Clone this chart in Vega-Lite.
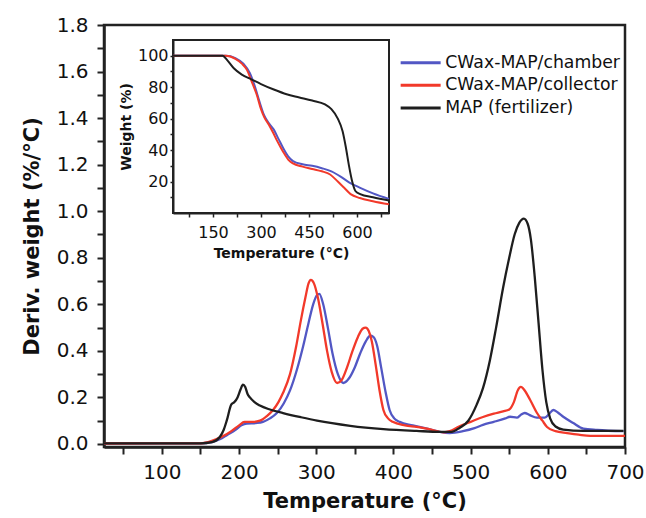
{
  "$schema": "https://vega.github.io/schema/vega-lite/v6.json",
  "width": 521,
  "height": 422,
  "autosize": "none",
  "padding": {"left": 104, "top": 25, "right": 21, "bottom": 71},
  "background": "white",
  "config": {
    "view": {"stroke": "#222222", "strokeWidth": 2.5},
    "font": "DejaVu Sans",
    "axis": {"grid": false, "labelColor": "#111", "titleColor": "#111", "domainColor": "#222", "tickColor": "#222", "labelOverlap": false, "labelFlush": false, "labelFont": "DejaVu Sans", "titleFont": "DejaVu Sans"}
  },
  "datasets": {
    "dtg": [
      {"s": "CWax-MAP/chamber", "T": 25, "d": 0.002}, {"s": "CWax-MAP/chamber", "T": 150, "d": 0.003}, {"s": "CWax-MAP/chamber", "T": 165, "d": 0.008}, {"s": "CWax-MAP/chamber", "T": 175, "d": 0.02}, {"s": "CWax-MAP/chamber", "T": 185, "d": 0.04}, {"s": "CWax-MAP/chamber", "T": 195, "d": 0.06}, {"s": "CWax-MAP/chamber", "T": 203, "d": 0.08}, {"s": "CWax-MAP/chamber", "T": 210, "d": 0.088}, {"s": "CWax-MAP/chamber", "T": 222, "d": 0.09}, {"s": "CWax-MAP/chamber", "T": 231, "d": 0.095}, {"s": "CWax-MAP/chamber", "T": 240, "d": 0.11}, {"s": "CWax-MAP/chamber", "T": 249, "d": 0.133}, {"s": "CWax-MAP/chamber", "T": 258, "d": 0.175}, {"s": "CWax-MAP/chamber", "T": 266, "d": 0.23}, {"s": "CWax-MAP/chamber", "T": 275, "d": 0.32}, {"s": "CWax-MAP/chamber", "T": 283, "d": 0.42}, {"s": "CWax-MAP/chamber", "T": 290, "d": 0.52}, {"s": "CWax-MAP/chamber", "T": 296, "d": 0.6}, {"s": "CWax-MAP/chamber", "T": 301, "d": 0.64}, {"s": "CWax-MAP/chamber", "T": 304, "d": 0.645}, {"s": "CWax-MAP/chamber", "T": 309, "d": 0.6}, {"s": "CWax-MAP/chamber", "T": 315, "d": 0.5}, {"s": "CWax-MAP/chamber", "T": 321, "d": 0.39}, {"s": "CWax-MAP/chamber", "T": 328, "d": 0.3}, {"s": "CWax-MAP/chamber", "T": 335, "d": 0.262}, {"s": "CWax-MAP/chamber", "T": 342, "d": 0.28}, {"s": "CWax-MAP/chamber", "T": 350, "d": 0.33}, {"s": "CWax-MAP/chamber", "T": 357, "d": 0.39}, {"s": "CWax-MAP/chamber", "T": 364, "d": 0.44}, {"s": "CWax-MAP/chamber", "T": 370, "d": 0.465}, {"s": "CWax-MAP/chamber", "T": 374, "d": 0.46}, {"s": "CWax-MAP/chamber", "T": 379, "d": 0.42}, {"s": "CWax-MAP/chamber", "T": 384, "d": 0.33}, {"s": "CWax-MAP/chamber", "T": 390, "d": 0.22}, {"s": "CWax-MAP/chamber", "T": 395, "d": 0.146}, {"s": "CWax-MAP/chamber", "T": 401, "d": 0.11}, {"s": "CWax-MAP/chamber", "T": 408, "d": 0.095}, {"s": "CWax-MAP/chamber", "T": 425, "d": 0.08}, {"s": "CWax-MAP/chamber", "T": 445, "d": 0.065}, {"s": "CWax-MAP/chamber", "T": 460, "d": 0.052}, {"s": "CWax-MAP/chamber", "T": 473, "d": 0.047}, {"s": "CWax-MAP/chamber", "T": 490, "d": 0.055}, {"s": "CWax-MAP/chamber", "T": 505, "d": 0.068}, {"s": "CWax-MAP/chamber", "T": 516, "d": 0.082}, {"s": "CWax-MAP/chamber", "T": 530, "d": 0.095}, {"s": "CWax-MAP/chamber", "T": 545, "d": 0.11}, {"s": "CWax-MAP/chamber", "T": 551, "d": 0.117}, {"s": "CWax-MAP/chamber", "T": 560, "d": 0.113}, {"s": "CWax-MAP/chamber", "T": 565, "d": 0.125}, {"s": "CWax-MAP/chamber", "T": 570, "d": 0.133}, {"s": "CWax-MAP/chamber", "T": 576, "d": 0.125}, {"s": "CWax-MAP/chamber", "T": 586, "d": 0.113}, {"s": "CWax-MAP/chamber", "T": 596, "d": 0.113}, {"s": "CWax-MAP/chamber", "T": 602, "d": 0.13}, {"s": "CWax-MAP/chamber", "T": 607, "d": 0.146}, {"s": "CWax-MAP/chamber", "T": 613, "d": 0.135}, {"s": "CWax-MAP/chamber", "T": 620, "d": 0.117}, {"s": "CWax-MAP/chamber", "T": 633, "d": 0.09}, {"s": "CWax-MAP/chamber", "T": 646, "d": 0.066}, {"s": "CWax-MAP/chamber", "T": 664, "d": 0.06}, {"s": "CWax-MAP/chamber", "T": 698, "d": 0.055},
      {"s": "CWax-MAP/collector", "T": 25, "d": 0.002}, {"s": "CWax-MAP/collector", "T": 150, "d": 0.003}, {"s": "CWax-MAP/collector", "T": 160, "d": 0.008}, {"s": "CWax-MAP/collector", "T": 170, "d": 0.02}, {"s": "CWax-MAP/collector", "T": 180, "d": 0.035}, {"s": "CWax-MAP/collector", "T": 190, "d": 0.055}, {"s": "CWax-MAP/collector", "T": 200, "d": 0.08}, {"s": "CWax-MAP/collector", "T": 207, "d": 0.095}, {"s": "CWax-MAP/collector", "T": 218, "d": 0.095}, {"s": "CWax-MAP/collector", "T": 227, "d": 0.1}, {"s": "CWax-MAP/collector", "T": 236, "d": 0.12}, {"s": "CWax-MAP/collector", "T": 244, "d": 0.146}, {"s": "CWax-MAP/collector", "T": 251, "d": 0.18}, {"s": "CWax-MAP/collector", "T": 257, "d": 0.22}, {"s": "CWax-MAP/collector", "T": 266, "d": 0.3}, {"s": "CWax-MAP/collector", "T": 274, "d": 0.42}, {"s": "CWax-MAP/collector", "T": 280, "d": 0.53}, {"s": "CWax-MAP/collector", "T": 286, "d": 0.63}, {"s": "CWax-MAP/collector", "T": 290, "d": 0.69}, {"s": "CWax-MAP/collector", "T": 293, "d": 0.705}, {"s": "CWax-MAP/collector", "T": 297, "d": 0.69}, {"s": "CWax-MAP/collector", "T": 302, "d": 0.63}, {"s": "CWax-MAP/collector", "T": 308, "d": 0.52}, {"s": "CWax-MAP/collector", "T": 314, "d": 0.4}, {"s": "CWax-MAP/collector", "T": 320, "d": 0.31}, {"s": "CWax-MAP/collector", "T": 327, "d": 0.262}, {"s": "CWax-MAP/collector", "T": 333, "d": 0.275}, {"s": "CWax-MAP/collector", "T": 340, "d": 0.33}, {"s": "CWax-MAP/collector", "T": 347, "d": 0.4}, {"s": "CWax-MAP/collector", "T": 354, "d": 0.46}, {"s": "CWax-MAP/collector", "T": 360, "d": 0.495}, {"s": "CWax-MAP/collector", "T": 364, "d": 0.5}, {"s": "CWax-MAP/collector", "T": 368, "d": 0.485}, {"s": "CWax-MAP/collector", "T": 372, "d": 0.44}, {"s": "CWax-MAP/collector", "T": 377, "d": 0.34}, {"s": "CWax-MAP/collector", "T": 382, "d": 0.23}, {"s": "CWax-MAP/collector", "T": 387, "d": 0.146}, {"s": "CWax-MAP/collector", "T": 393, "d": 0.11}, {"s": "CWax-MAP/collector", "T": 399, "d": 0.095}, {"s": "CWax-MAP/collector", "T": 415, "d": 0.08}, {"s": "CWax-MAP/collector", "T": 430, "d": 0.073}, {"s": "CWax-MAP/collector", "T": 451, "d": 0.06}, {"s": "CWax-MAP/collector", "T": 465, "d": 0.05}, {"s": "CWax-MAP/collector", "T": 473, "d": 0.055}, {"s": "CWax-MAP/collector", "T": 485, "d": 0.075}, {"s": "CWax-MAP/collector", "T": 500, "d": 0.095}, {"s": "CWax-MAP/collector", "T": 516, "d": 0.116}, {"s": "CWax-MAP/collector", "T": 530, "d": 0.13}, {"s": "CWax-MAP/collector", "T": 542, "d": 0.14}, {"s": "CWax-MAP/collector", "T": 550, "d": 0.148}, {"s": "CWax-MAP/collector", "T": 556, "d": 0.18}, {"s": "CWax-MAP/collector", "T": 561, "d": 0.23}, {"s": "CWax-MAP/collector", "T": 565, "d": 0.245}, {"s": "CWax-MAP/collector", "T": 570, "d": 0.23}, {"s": "CWax-MAP/collector", "T": 577, "d": 0.19}, {"s": "CWax-MAP/collector", "T": 586, "d": 0.133}, {"s": "CWax-MAP/collector", "T": 593, "d": 0.1}, {"s": "CWax-MAP/collector", "T": 599, "d": 0.073}, {"s": "CWax-MAP/collector", "T": 610, "d": 0.055}, {"s": "CWax-MAP/collector", "T": 625, "d": 0.047}, {"s": "CWax-MAP/collector", "T": 640, "d": 0.04}, {"s": "CWax-MAP/collector", "T": 655, "d": 0.035}, {"s": "CWax-MAP/collector", "T": 700, "d": 0.035},
      {"s": "MAP (fertilizer)", "T": 25, "d": 0.003}, {"s": "MAP (fertilizer)", "T": 150, "d": 0.003}, {"s": "MAP (fertilizer)", "T": 165, "d": 0.008}, {"s": "MAP (fertilizer)", "T": 175, "d": 0.03}, {"s": "MAP (fertilizer)", "T": 180, "d": 0.06}, {"s": "MAP (fertilizer)", "T": 184, "d": 0.1}, {"s": "MAP (fertilizer)", "T": 190, "d": 0.17}, {"s": "MAP (fertilizer)", "T": 194, "d": 0.18}, {"s": "MAP (fertilizer)", "T": 198, "d": 0.2}, {"s": "MAP (fertilizer)", "T": 202, "d": 0.235}, {"s": "MAP (fertilizer)", "T": 205, "d": 0.255}, {"s": "MAP (fertilizer)", "T": 208, "d": 0.245}, {"s": "MAP (fertilizer)", "T": 211, "d": 0.215}, {"s": "MAP (fertilizer)", "T": 214, "d": 0.2}, {"s": "MAP (fertilizer)", "T": 220, "d": 0.18}, {"s": "MAP (fertilizer)", "T": 227, "d": 0.165}, {"s": "MAP (fertilizer)", "T": 240, "d": 0.148}, {"s": "MAP (fertilizer)", "T": 257, "d": 0.133}, {"s": "MAP (fertilizer)", "T": 280, "d": 0.115}, {"s": "MAP (fertilizer)", "T": 301, "d": 0.1}, {"s": "MAP (fertilizer)", "T": 344, "d": 0.078}, {"s": "MAP (fertilizer)", "T": 387, "d": 0.064}, {"s": "MAP (fertilizer)", "T": 430, "d": 0.056}, {"s": "MAP (fertilizer)", "T": 460, "d": 0.052}, {"s": "MAP (fertilizer)", "T": 475, "d": 0.052}, {"s": "MAP (fertilizer)", "T": 486, "d": 0.07}, {"s": "MAP (fertilizer)", "T": 497, "d": 0.1}, {"s": "MAP (fertilizer)", "T": 508, "d": 0.17}, {"s": "MAP (fertilizer)", "T": 516, "d": 0.24}, {"s": "MAP (fertilizer)", "T": 525, "d": 0.36}, {"s": "MAP (fertilizer)", "T": 533, "d": 0.5}, {"s": "MAP (fertilizer)", "T": 542, "d": 0.67}, {"s": "MAP (fertilizer)", "T": 550, "d": 0.8}, {"s": "MAP (fertilizer)", "T": 557, "d": 0.9}, {"s": "MAP (fertilizer)", "T": 563, "d": 0.95}, {"s": "MAP (fertilizer)", "T": 569, "d": 0.968}, {"s": "MAP (fertilizer)", "T": 574, "d": 0.945}, {"s": "MAP (fertilizer)", "T": 578, "d": 0.88}, {"s": "MAP (fertilizer)", "T": 583, "d": 0.72}, {"s": "MAP (fertilizer)", "T": 588, "d": 0.52}, {"s": "MAP (fertilizer)", "T": 593, "d": 0.32}, {"s": "MAP (fertilizer)", "T": 598, "d": 0.18}, {"s": "MAP (fertilizer)", "T": 603, "d": 0.11}, {"s": "MAP (fertilizer)", "T": 610, "d": 0.075}, {"s": "MAP (fertilizer)", "T": 620, "d": 0.062}, {"s": "MAP (fertilizer)", "T": 646, "d": 0.056}, {"s": "MAP (fertilizer)", "T": 698, "d": 0.056}
    ],
    "tga": [
      {"s": "CWax-MAP/chamber", "T": 25, "w": 100}, {"s": "CWax-MAP/chamber", "T": 190, "w": 100}, {"s": "CWax-MAP/chamber", "T": 220, "w": 98.5}, {"s": "CWax-MAP/chamber", "T": 245, "w": 95}, {"s": "CWax-MAP/chamber", "T": 265, "w": 89}, {"s": "CWax-MAP/chamber", "T": 280, "w": 81}, {"s": "CWax-MAP/chamber", "T": 295, "w": 71}, {"s": "CWax-MAP/chamber", "T": 310, "w": 62}, {"s": "CWax-MAP/chamber", "T": 325, "w": 57}, {"s": "CWax-MAP/chamber", "T": 340, "w": 53}, {"s": "CWax-MAP/chamber", "T": 355, "w": 47}, {"s": "CWax-MAP/chamber", "T": 370, "w": 41}, {"s": "CWax-MAP/chamber", "T": 385, "w": 36}, {"s": "CWax-MAP/chamber", "T": 400, "w": 33}, {"s": "CWax-MAP/chamber", "T": 430, "w": 31}, {"s": "CWax-MAP/chamber", "T": 460, "w": 30}, {"s": "CWax-MAP/chamber", "T": 490, "w": 28.5}, {"s": "CWax-MAP/chamber", "T": 520, "w": 26.5}, {"s": "CWax-MAP/chamber", "T": 550, "w": 23}, {"s": "CWax-MAP/chamber", "T": 575, "w": 19.5}, {"s": "CWax-MAP/chamber", "T": 610, "w": 16}, {"s": "CWax-MAP/chamber", "T": 650, "w": 12.5}, {"s": "CWax-MAP/chamber", "T": 700, "w": 9},
      {"s": "CWax-MAP/collector", "T": 25, "w": 100}, {"s": "CWax-MAP/collector", "T": 190, "w": 100}, {"s": "CWax-MAP/collector", "T": 220, "w": 98}, {"s": "CWax-MAP/collector", "T": 240, "w": 95}, {"s": "CWax-MAP/collector", "T": 256, "w": 91}, {"s": "CWax-MAP/collector", "T": 270, "w": 84}, {"s": "CWax-MAP/collector", "T": 287, "w": 75}, {"s": "CWax-MAP/collector", "T": 300, "w": 66}, {"s": "CWax-MAP/collector", "T": 310, "w": 61}, {"s": "CWax-MAP/collector", "T": 325, "w": 56}, {"s": "CWax-MAP/collector", "T": 338, "w": 51}, {"s": "CWax-MAP/collector", "T": 350, "w": 46}, {"s": "CWax-MAP/collector", "T": 369, "w": 39}, {"s": "CWax-MAP/collector", "T": 385, "w": 34}, {"s": "CWax-MAP/collector", "T": 400, "w": 31.5}, {"s": "CWax-MAP/collector", "T": 430, "w": 29.5}, {"s": "CWax-MAP/collector", "T": 460, "w": 28}, {"s": "CWax-MAP/collector", "T": 490, "w": 26.5}, {"s": "CWax-MAP/collector", "T": 516, "w": 24.5}, {"s": "CWax-MAP/collector", "T": 540, "w": 20}, {"s": "CWax-MAP/collector", "T": 560, "w": 16}, {"s": "CWax-MAP/collector", "T": 580, "w": 12}, {"s": "CWax-MAP/collector", "T": 609, "w": 9.5}, {"s": "CWax-MAP/collector", "T": 650, "w": 7.5}, {"s": "CWax-MAP/collector", "T": 700, "w": 5.5},
      {"s": "MAP (fertilizer)", "T": 25, "w": 100}, {"s": "MAP (fertilizer)", "T": 180, "w": 100}, {"s": "MAP (fertilizer)", "T": 195, "w": 97}, {"s": "MAP (fertilizer)", "T": 215, "w": 92}, {"s": "MAP (fertilizer)", "T": 240, "w": 88}, {"s": "MAP (fertilizer)", "T": 270, "w": 85}, {"s": "MAP (fertilizer)", "T": 300, "w": 82}, {"s": "MAP (fertilizer)", "T": 340, "w": 78.5}, {"s": "MAP (fertilizer)", "T": 380, "w": 75.5}, {"s": "MAP (fertilizer)", "T": 420, "w": 73.5}, {"s": "MAP (fertilizer)", "T": 460, "w": 71.5}, {"s": "MAP (fertilizer)", "T": 500, "w": 69}, {"s": "MAP (fertilizer)", "T": 520, "w": 66}, {"s": "MAP (fertilizer)", "T": 540, "w": 60}, {"s": "MAP (fertilizer)", "T": 555, "w": 52}, {"s": "MAP (fertilizer)", "T": 565, "w": 42}, {"s": "MAP (fertilizer)", "T": 575, "w": 30}, {"s": "MAP (fertilizer)", "T": 585, "w": 20}, {"s": "MAP (fertilizer)", "T": 595, "w": 14}, {"s": "MAP (fertilizer)", "T": 610, "w": 12}, {"s": "MAP (fertilizer)", "T": 650, "w": 10}, {"s": "MAP (fertilizer)", "T": 700, "w": 8}
    ]
  },
  "layer": [
    {
      "data": {"name": "dtg"},
      "mark": {"type": "line", "strokeWidth": 2.3, "clip": true, "interpolate": "monotone"},
      "encoding": {
        "x": {
          "field": "T", "type": "quantitative",
          "scale": {"domain": [25, 700], "nice": false, "zero": false},
          "axis": {
            "values": [50, 100, 150, 200, 250, 300, 350, 400, 450, 500, 550, 600, 650, 700],
            "labelExpr": "datum.value % 100 === 0 ? datum.label : ''",
            "title": "Temperature (°C)", "titleFontSize": 21, "titleFontWeight": "bold",
            "labelFontSize": 20, "tickSize": 7, "tickWidth": 2, "domainWidth": 2.5,
            "labelPadding": 8, "titlePadding": 8
          }
        },
        "y": {
          "field": "d", "type": "quantitative",
          "scale": {"domain": [-0.013, 1.8], "nice": false, "zero": false},
          "axis": {
            "values": [0, 0.1, 0.2, 0.3, 0.4, 0.5, 0.6, 0.7, 0.8, 0.9, 1.0, 1.1, 1.2, 1.3, 1.4, 1.5, 1.6, 1.7, 1.8],
            "labelExpr": "round(datum.value * 10) % 2 === 0 ? format(datum.value, '.1f') : ''",
            "title": "Deriv. weight (%/°C)", "titleFontSize": 21, "titleFontWeight": "bold",
            "labelFontSize": 20, "tickSize": 7, "tickWidth": 2, "domainWidth": 2.5,
            "labelPadding": 9, "titlePadding": 14
          }
        },
        "color": {
          "field": "s", "type": "nominal",
          "scale": {"domain": ["CWax-MAP/chamber", "CWax-MAP/collector", "MAP (fertilizer)"], "range": ["#5257c4", "#f2392a", "#1e1e1e"]},
          "legend": {
            "orient": "none", "legendX": 308, "legendY": 29, "title": null,
            "symbolType": "M-4,0H4", "symbolSize": 100, "symbolStrokeWidth": 3,
            "labelFontSize": 17.3, "labelFont": "DejaVu Sans", "labelColor": "#111",
            "labelOffset": 16, "labelLimit": 0, "padding": 0, "rowPadding": 4.7
          }
        }
      }
    },
    {
      "layer": [
        {
          "data": {"values": [{"frame": 1}]},
          "mark": {"type": "rect", "fill": "white", "fillOpacity": 0, "stroke": "#222", "strokeWidth": 2},
          "encoding": {
            "x": {"datum": 25, "type": "quantitative", "title": "Temperature (°C)"},
            "x2": {"datum": 700},
            "y": {"datum": 0, "type": "quantitative", "title": "Weight (%)"},
            "y2": {"datum": 110}
          }
        },
        {
          "data": {"name": "tga"},
          "mark": {"type": "line", "strokeWidth": 2, "interpolate": "monotone"},
          "encoding": {
            "x": {
              "field": "T", "type": "quantitative", "title": "Temperature (°C)",
              "scale": {"domain": [25, 700], "range": [69, 285], "nice": false, "zero": false},
              "axis": {
                "orient": "bottom", "offset": -234,
                "values": [75, 150, 225, 300, 375, 450, 525, 600, 675],
                "labelExpr": "datum.value % 150 === 0 ? datum.label : ''",
                "title": "Temperature (°C)", "titleFontSize": 14, "titleFontWeight": "bold",
                "labelFontSize": 16, "tickSize": 4, "tickWidth": 1.5, "domainWidth": 2,
                "labelPadding": 7, "titlePadding": 6
              }
            },
            "y": {
              "field": "w", "type": "quantitative", "title": "Weight (%)",
              "scale": {"domain": [0, 110], "range": [188, 15], "nice": false, "zero": false},
              "axis": {
                "orient": "left", "offset": -69,
                "values": [10, 20, 30, 40, 50, 60, 70, 80, 90, 100],
                "labelExpr": "datum.value % 20 === 0 ? datum.label : ''",
                "title": "Weight (%)", "titleFontSize": 14, "titleFontWeight": "bold",
                "labelFontSize": 16, "tickSize": 3, "tickWidth": 1.5, "domainWidth": 2,
                "labelPadding": 2, "titlePadding": 4
              }
            },
            "color": {"field": "s", "type": "nominal"}
          }
        }
      ]
    }
  ],
  "resolve": {"scale": {"x": "independent", "y": "independent"}}
}
